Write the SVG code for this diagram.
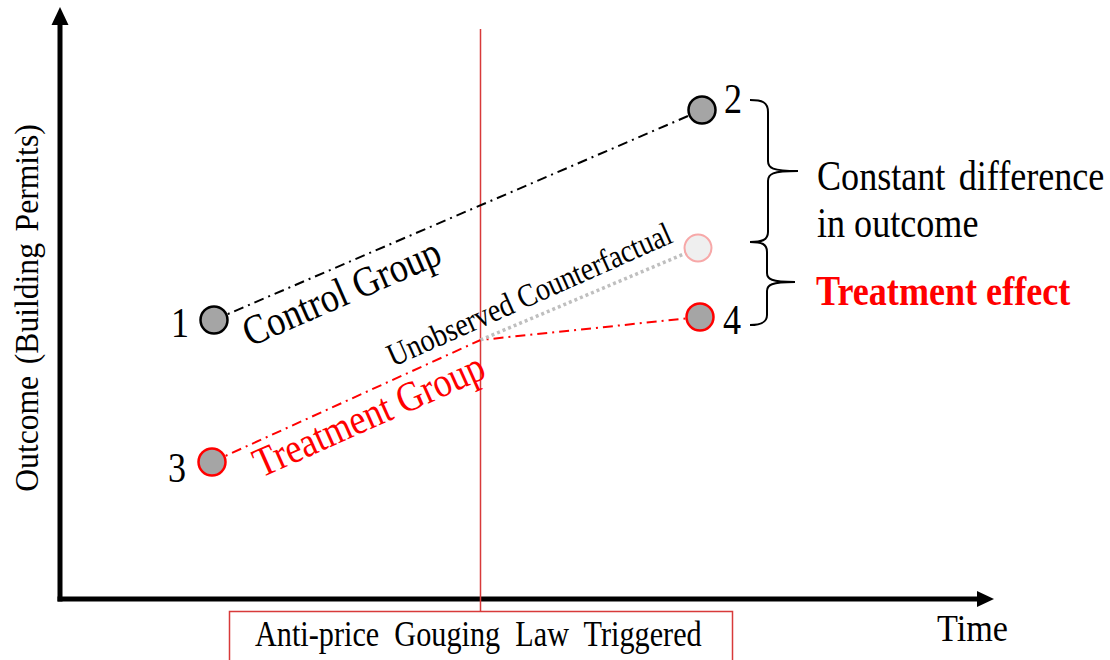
<svg xmlns="http://www.w3.org/2000/svg" width="1110" height="660" viewBox="0 0 1110 660">
<style>
text{font-family:"Liberation Serif","Times New Roman",serif;fill:#000}
.num{font-size:42px}
.red{fill:#ff0000}
.node{fill:#a5a5a5;stroke-width:2.5}
.blk{stroke:#000}
.rds{stroke:#ff0000}
.conn{fill:none;stroke-width:2;stroke-dasharray:10 5 2 5}
</style>
<rect width="1110" height="660" fill="#fff"/>
<g id="axes">
<line x1="60" y1="601.5" x2="60" y2="24" stroke="#000" stroke-width="5"/>
<polygon points="60,7 51.5,25 68.5,25" fill="#000"/>
<line x1="57.5" y1="599" x2="978" y2="599" stroke="#000" stroke-width="5"/>
<polygon points="994,599 977,591 977,607" fill="#000"/>
<text transform="translate(38,308) rotate(-90) scale(0.93,1)" text-anchor="middle" font-size="34" word-spacing="4">Outcome (Building Permits)</text>
<text transform="translate(937,641) scale(0.9,1)" font-size="38">Time</text>
</g>
<g id="law">
<line x1="480.5" y1="29" x2="480.5" y2="611" stroke="#d83a3a" stroke-width="1.5"/>
<rect x="229.5" y="611.5" width="503" height="60" fill="none" stroke="#d83a3a" stroke-width="1.5"/>
<text transform="translate(255,646) scale(0.84,1)" font-size="36" word-spacing="9">Anti-price Gouging Law Triggered</text>
</g>
<g id="connectors">
<line class="conn blk" x1="214" y1="320" x2="702" y2="110"/>
<polyline class="conn rds" points="212,462 480.5,340 700,317"/>
<line x1="480.5" y1="340" x2="698" y2="248" stroke="#bfbfbf" stroke-width="3.5" stroke-dasharray="3 3"/>
</g>
<g id="node1">
<circle class="node blk" cx="214" cy="320" r="13.5"/>
<text class="num" transform="translate(171,337) scale(0.86,1)">1</text>
</g>
<g id="node2">
<circle class="node blk" cx="702" cy="110" r="13.5"/>
<text class="num" transform="translate(724,113) scale(0.86,1)">2</text>
</g>
<g id="node3">
<circle class="node rds" cx="212" cy="462" r="13.5"/>
<text class="num" transform="translate(168,482) scale(0.86,1)">3</text>
</g>
<g id="node4">
<circle class="node rds" cx="700" cy="317" r="13.5"/>
<text class="num" transform="translate(723,334) scale(0.86,1)">4</text>
</g>
<g id="counterfactual">
<circle cx="698" cy="248" r="13.5" fill="#efefef" stroke="#f7a8a8" stroke-width="2"/>
<text transform="translate(393,367) rotate(-24) scale(0.86,1)" font-size="32.5">Unobserved Counterfactual</text>
</g>
<g id="labels">
<text transform="translate(250,347) rotate(-23.5) scale(0.86,1)" font-size="42">Control Group</text>
<text class="red" transform="translate(261,478) rotate(-24) scale(0.86,1)" font-size="42">Treatment Group</text>
</g>
<g id="braces" fill="none" stroke="#000" stroke-width="2">
<path d="M750,100 C762,100 768,102 768,112 L768,161 C768,168 772,171 798,171 C772,171 768,174 768,181 L768,232 C768,240 762,242 750,242"/>
<path d="M750,242 C762,242 767,244 767,252 L767,273 C767,279 771,282 795,282 C771,282 767,285 767,291 L767,315 C767,322 762,325 750,325"/>
</g>
<g id="annotations">
<text transform="translate(817,190) scale(0.86,1)" font-size="42" word-spacing="5">Constant difference</text>
<text transform="translate(817,237) scale(0.86,1)" font-size="42">in outcome</text>
<text class="red" transform="translate(816,305) scale(0.86,1)" font-size="42" font-weight="bold">Treatment effect</text>
</g>
</svg>
